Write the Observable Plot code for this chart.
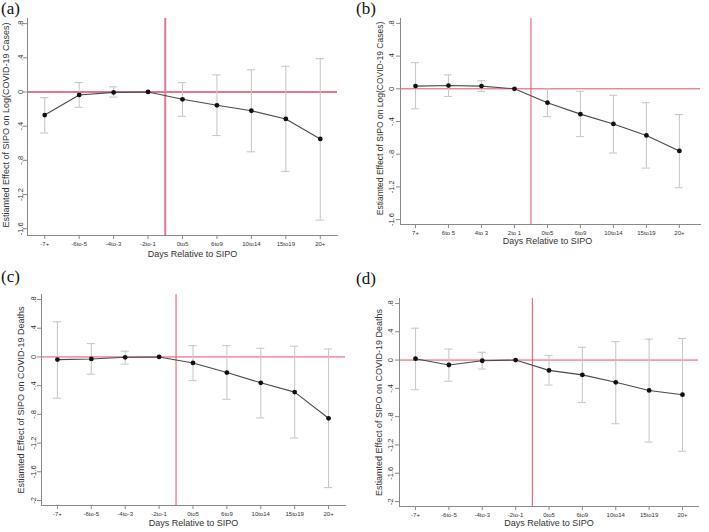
<!DOCTYPE html>
<html>
<head>
<meta charset="utf-8">
<script src="https://cdn.jsdelivr.net/npm/d3@7"></script>
<script src="https://cdn.jsdelivr.net/npm/@observablehq/plot@0.6"></script>
<style>
  html, body { margin: 0; padding: 0; background: #fff; }
  #root { position: relative; width: 709px; height: 532px; overflow: hidden; font-family: "Liberation Sans", Arial, sans-serif; }
  .panel { position: absolute; }
  .letter { position: absolute; font-family: "Liberation Serif", "Times New Roman", serif; font-size: 17px; color: #111; line-height: 1; }
</style>
</head>
<body>
<div id="root"></div>
<script>
// ---- Data ----
const categoriesAll = ["-7+", "-6to-5", "-4to-3", "-2to-1", "0to5", "6to9", "10to14", "15to19", "20+"];
const categoriesB = ["7+", "6to 5", "4to 3", "2to 1", "0to5", "6to9", "10to14", "15to19", "20+"];

const estA = [-0.27, -0.035, -0.005, 0, -0.086, -0.156, -0.22, -0.316, -0.55];
const loA  = [-0.48, -0.18, -0.06, null, -0.285, -0.51, -0.70, -0.93, -1.50];
const hiA  = [-0.066, 0.11, 0.06, null, 0.11, 0.20, 0.26, 0.30, 0.39];

const estB = [0.033, 0.04, 0.033, 0, -0.17, -0.31, -0.43, -0.57, -0.76];
const loB  = [-0.245, -0.094, -0.033, null, -0.34, -0.585, -0.785, -0.97, -1.21];
const hiB  = [0.32, 0.17, 0.098, null, -0.004, -0.03, -0.08, -0.17, -0.315];

const estC = [-0.037, -0.028, -0.005, 0, -0.084, -0.218, -0.36, -0.49, -0.855];
const loC  = [-0.575, -0.24, -0.10, null, -0.33, -0.59, -0.85, -1.13, -1.82];
const hiC  = [0.49, 0.186, 0.08, null, 0.158, 0.158, 0.12, 0.15, 0.11];

const estD = [0.019, -0.07, -0.01, 0, -0.146, -0.21, -0.315, -0.43, -0.49];
const loD  = [-0.42, -0.30, -0.127, null, -0.353, -0.60, -0.90, -1.16, -1.29];
const hiD  = [0.45, 0.155, 0.11, null, 0.066, 0.18, 0.26, 0.296, 0.305];

const yTicksCases = [0.8, 0.4, 0, -0.4, -0.8, -1.2, -1.6];
const yTicksDeaths = [0.8, 0.4, 0, -0.4, -0.8, -1.2, -1.6, -2];

const titleCases = "Estiamted Effect of SIPO on Log(COVID-19 Cases)";
const titleDeaths = "Estiamted Effect of SIPO on COVID-19 Deaths";
const xTitle = "Days Relative to SIPO";
const panelLetters = ["(a)", "(b)", "(c)", "(d)"];

// ---- Helpers ----
function fmtY(d) {
  if (d === 0) return "0";
  return String(d).replace("0.", ".");
}

function makePanel(cfg) {
  const rows = cfg.cats.map((c, i) => ({idx: i + 1, cat: c, est: cfg.est[i], lo: cfg.lo[i], hi: cfg.hi[i]}));
  const ci = rows.filter(r => r.lo != null);
  const cap = 0.12;
  const axisColor = "#8a8a8a";
  const textColor = "#333";
  return Plot.plot({
    width: cfg.width,
    height: cfg.height,
    marginLeft: cfg.ml,
    marginRight: cfg.mr,
    marginTop: cfg.mt,
    marginBottom: cfg.mb,
    style: {fontFamily: "Liberation Sans, Arial, sans-serif", background: "transparent", overflow: "visible"},
    x: {domain: cfg.xDomain, axis: null},
    y: {domain: cfg.yDomain, axis: null},
    marks: [
      // reference lines
      Plot.ruleY([0], {stroke: cfg.refColor, strokeWidth: cfg.refWidth}),
      Plot.ruleX([4.5], {stroke: cfg.refColor, strokeWidth: cfg.refWidth}),
      // confidence intervals
      Plot.ruleX(ci, {x: "idx", y1: "lo", y2: "hi", stroke: "#c9c9c9", strokeWidth: 1.1}),
      Plot.ruleY(ci, {y: "lo", x1: d => d.idx - cap, x2: d => d.idx + cap, stroke: "#c9c9c9", strokeWidth: 1.1}),
      Plot.ruleY(ci, {y: "hi", x1: d => d.idx - cap, x2: d => d.idx + cap, stroke: "#c9c9c9", strokeWidth: 1.1}),
      // estimates
      Plot.line(rows, {x: "idx", y: "est", stroke: "#4a4a4a", strokeWidth: 1.1}),
      Plot.dot(rows, {x: "idx", y: "est", r: 2.4, fill: "#111", stroke: "none"}),
      // axes
      Plot.axisX({
        ticks: rows.map(r => r.idx),
        tickFormat: i => cfg.cats[i - 1],
        tickSize: 4, tickPadding: 2, fontSize: 6, color: textColor, stroke: axisColor,
        label: null
      }),
      Plot.axisY({
        ticks: cfg.yTicks,
        tickFormat: fmtY,
        tickSize: 4, tickPadding: cfg.yTickPad, tickRotate: -90, fontSize: 7.5, color: textColor, stroke: axisColor,
        label: null
      }),
      Plot.frame({anchor: "left", stroke: axisColor}),
      Plot.frame({anchor: "bottom", stroke: axisColor}),
      // titles
      Plot.text([cfg.yTitle], {frameAnchor: "left", rotate: -90, dx: -cfg.yTitleOff, dy: cfg.yTitleDy,
        textAnchor: "middle", lineAnchor: "middle", fontSize: cfg.yTitleSize, fill: textColor}),
      Plot.text([xTitle], {frameAnchor: "bottom", dy: cfg.xTitleOff, dx: cfg.xTitleDx,
        textAnchor: "middle", lineAnchor: "middle", fontSize: 9, fill: textColor})
    ]
  });
}

const panels = [
  {left: 0, top: 0, width: 345, height: 262, ml: 27, mr: 8, mt: 18, mb: 27,
   xDomain: [0.5, 9.5], yDomain: [-1.68, 0.86], yTicks: yTicksCases,
   cats: categoriesAll, est: estA, lo: loA, hi: hiA,
   refColor: "#e27790", refWidth: 2, yTitle: titleCases, yTitleOff: 21, yTitleDy: -2, yTitleSize: 9,
   yTickPad: 1, xTitleOff: 19, xTitleDx: 10},
  {left: 355, top: 0, width: 354, height: 262, ml: 45, mr: 9, mt: 18, mb: 38,
   xDomain: [0.545, 9.64], yDomain: [-1.66, 0.86], yTicks: yTicksCases,
   cats: categoriesB, est: estB, lo: loB, hi: hiB,
   refColor: "#e8506a", refWidth: 1, yTitle: titleCases, yTitleOff: 20, yTitleDy: -3, yTitleSize: 8.5,
   yTickPad: 3, xTitleOff: 17, xTitleDx: -3},
  {left: 0, top: 268, width: 355, height: 264, ml: 41, mr: 10, mt: 26, mb: 27,
   xDomain: [0.53, 9.5], yDomain: [-2.07, 0.87], yTicks: yTicksDeaths,
   cats: categoriesAll, est: estC, lo: loC, hi: hiC,
   refColor: "#e8506a", refWidth: 1, yTitle: titleDeaths, yTitleOff: 20, yTitleDy: 0, yTitleSize: 9,
   yTickPad: 2, xTitleOff: 18, xTitleDx: 0},
  {left: 355, top: 268, width: 354, height: 264, ml: 44, mr: 11, mt: 30, mb: 26,
   xDomain: [0.52, 9.48], yDomain: [-2.07, 0.87], yTicks: yTicksDeaths,
   cats: categoriesAll, est: estD, lo: loD, hi: hiD,
   refColor: "#e8506a", refWidth: 1, yTitle: titleDeaths, yTitleOff: 20, yTitleDy: 0, yTitleSize: 9,
   yTickPad: 3, xTitleOff: 17, xTitleDx: 0}
];

const letterPos = [
  {left: 1, top: 0}, {left: 356, top: 0}, {left: 1, top: 268}, {left: 356, top: 270}
];

const root = document.getElementById("root");
panels.forEach((cfg, k) => {
  const wrap = document.createElement("div");
  wrap.className = "panel";
  wrap.style.left = cfg.left + "px";
  wrap.style.top = cfg.top + "px";
  wrap.appendChild(makePanel(cfg));
  root.appendChild(wrap);
  const lab = document.createElement("div");
  lab.className = "letter";
  lab.style.left = letterPos[k].left + "px";
  lab.style.top = letterPos[k].top + "px";
  lab.textContent = panelLetters[k];
  root.appendChild(lab);
});
</script>
</body>
</html>
